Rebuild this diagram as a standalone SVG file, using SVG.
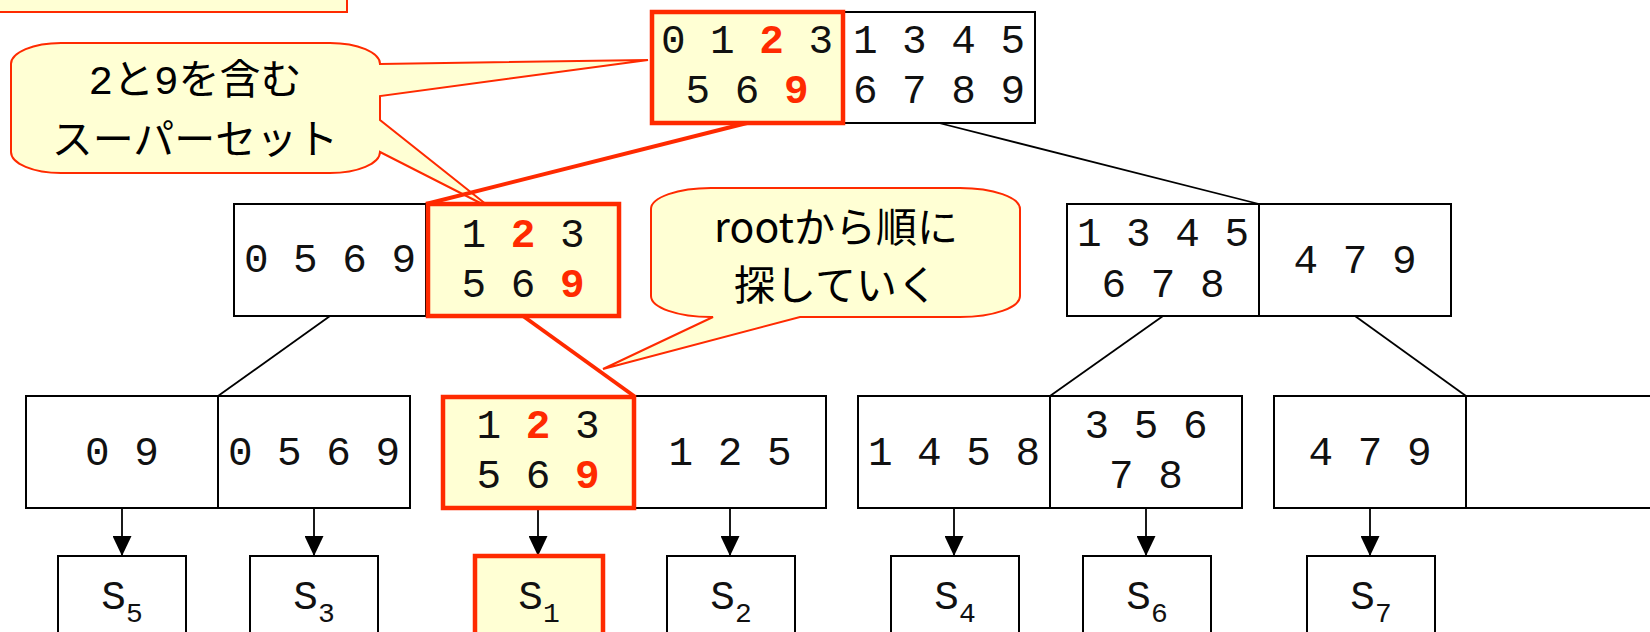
<svg xmlns="http://www.w3.org/2000/svg" width="1650" height="632" viewBox="0 0 1650 632">
<style>
.box{fill:#fff;stroke:#000;stroke-width:2}
.div{stroke:#000;stroke-width:2}
.hl{fill:#FFFFD4;stroke:#FF2A00;stroke-width:4.5}
.num{font-family:'Liberation Mono','DejaVu Sans Mono',monospace;font-size:41px;fill:#111;text-anchor:middle}
.red{font-weight:bold;fill:#FF2A00}
.sub{font-size:28px}
.call{fill:#FFFFD4;stroke:#FF2A00;stroke-width:2}
.jp{font-family:'Noto Sans CJK JP',sans-serif;font-size:41px;fill:#000;text-anchor:middle}
.mono{font-family:'Liberation Mono',monospace}
.cb{stroke:#000;stroke-width:1.8;fill:none}
.cr{stroke:#FF2A00;stroke-width:4;fill:none}
</style>
<defs>
<marker id="ah" viewBox="0 0 20 19" refX="20" refY="9.5" markerWidth="20" markerHeight="19" markerUnits="userSpaceOnUse" orient="auto">
<path d="M0,0 L20,9.5 L0,19 Z" fill="#000"/>
</marker>
</defs>

<g id="callout-top">
<rect x="-10" y="-30" width="357" height="42" class="call"/>
</g>

<g id="callout-superset">
<path class="call" d="M61,43 H330 A50 21 0 0 1 380,64 L648,60 L380,96 V120 L492,209 L380,152 A50 21 0 0 1 330,173 H61 A50 21 0 0 1 11,152 V64 A50 21 0 0 1 61,43 Z"/>
<text class="jp" x="195" y="94"><tspan class="mono">2</tspan>と<tspan class="mono">9</tspan>を含む</text>
<text class="jp" x="195" y="154">スーパーセット</text>
</g>

<g id="callout-root">
<path class="call" d="M711,188 H960 A60 21 0 0 1 1020,209 V296 A60 21 0 0 1 960,317 H800 L603,369 L713,317 H711 A60 21 0 0 1 651,296 V209 A60 21 0 0 1 711,188 Z"/>
<text class="jp" x="836" y="242">rootから順に</text>
<text class="jp" x="836" y="300">探していく</text>
</g>

<g id="connectors">
<line class="cr" x1="747" y1="123" x2="426" y2="204"/>
<line class="cb" x1="939" y1="123" x2="1259" y2="204"/>
<line class="cb" x1="330" y1="316" x2="218" y2="396"/>
<line class="cr" x1="523" y1="316" x2="634" y2="396"/>
<line class="cb" x1="1163" y1="316" x2="1050" y2="396"/>
<line class="cb" x1="1355" y1="316" x2="1466" y2="396"/>
<line class="cb" x1="122" y1="508" x2="122" y2="556" marker-end="url(#ah)"/>
<line class="cb" x1="314" y1="508" x2="314" y2="556" marker-end="url(#ah)"/>
<line class="cb" x1="538" y1="510" x2="538" y2="556" marker-end="url(#ah)"/>
<line class="cb" x1="730" y1="508" x2="730" y2="556" marker-end="url(#ah)"/>
<line class="cb" x1="954" y1="508" x2="954" y2="556" marker-end="url(#ah)"/>
<line class="cb" x1="1146" y1="508" x2="1146" y2="556" marker-end="url(#ah)"/>
<line class="cb" x1="1370" y1="508" x2="1370" y2="556" marker-end="url(#ah)"/>
</g>

<g id="node-root">
<rect class="box" x="651" y="12" width="384" height="111"/>
<line class="div" x1="843" y1="12" x2="843" y2="123"/>
<rect class="hl" x="652" y="12" width="191" height="111"/>
<text class="num" x="747" y="53">0 1 <tspan class="red">2</tspan> 3</text>
<text class="num" x="747" y="103">5 6 <tspan class="red">9</tspan></text>
<text class="num" x="939" y="53">1 3 4 5</text>
<text class="num" x="939" y="103">6 7 8 9</text>
</g>

<g id="node-mid-left">
<rect class="box" x="234" y="204" width="384" height="112"/>
<line class="div" x1="426" y1="204" x2="426" y2="316"/>
<rect class="hl" x="428" y="204" width="191" height="112"/>
<text class="num" x="330" y="272">0 5 6 9</text>
<text class="num" x="523" y="247">1 <tspan class="red">2</tspan> 3</text>
<text class="num" x="523" y="297">5 6 <tspan class="red">9</tspan></text>
</g>

<g id="node-mid-right">
<rect class="box" x="1067" y="204" width="384" height="112"/>
<line class="div" x1="1259" y1="204" x2="1259" y2="316"/>
<text class="num" x="1163" y="246">1 3 4 5</text>
<text class="num" x="1163" y="297">6 7 8</text>
<text class="num" x="1355" y="273">4 7 9</text>
</g>

<g id="node-leaf-a">
<rect class="box" x="26" y="396" width="384" height="112"/>
<line class="div" x1="218" y1="396" x2="218" y2="508"/>
<text class="num" x="122" y="465">0 9</text>
<text class="num" x="314" y="465">0 5 6 9</text>
</g>

<g id="node-leaf-b">
<rect class="box" x="442" y="396" width="384" height="112"/>
<line class="div" x1="634" y1="396" x2="634" y2="508"/>
<rect class="hl" x="443" y="397" width="191" height="111"/>
<text class="num" x="538" y="438">1 <tspan class="red">2</tspan> 3</text>
<text class="num" x="538" y="488">5 6 <tspan class="red">9</tspan></text>
<text class="num" x="730" y="465">1 2 5</text>
</g>

<g id="node-leaf-c">
<rect class="box" x="858" y="396" width="384" height="112"/>
<line class="div" x1="1050" y1="396" x2="1050" y2="508"/>
<text class="num" x="954" y="465">1 4 5 8</text>
<text class="num" x="1146" y="438">3 5 6</text>
<text class="num" x="1146" y="488">7 8</text>
</g>

<g id="node-leaf-d">
<rect class="box" x="1274" y="396" width="384" height="112"/>
<line class="div" x1="1466" y1="396" x2="1466" y2="508"/>
<text class="num" x="1370" y="465">4 7 9</text>
</g>

<g id="s5"><rect class="box" x="58" y="556" width="128" height="100"/><text class="num" x="122" y="609">S<tspan class="sub" dy="13">5</tspan></text></g>
<g id="s3"><rect class="box" x="250" y="556" width="128" height="100"/><text class="num" x="314" y="609">S<tspan class="sub" dy="13">3</tspan></text></g>
<g id="s1"><rect class="hl" x="475" y="556" width="128" height="100"/><text class="num" x="539" y="609">S<tspan class="sub" dy="13">1</tspan></text></g>
<g id="s2"><rect class="box" x="667" y="556" width="128" height="100"/><text class="num" x="731" y="609">S<tspan class="sub" dy="13">2</tspan></text></g>
<g id="s4"><rect class="box" x="891" y="556" width="128" height="100"/><text class="num" x="955" y="609">S<tspan class="sub" dy="13">4</tspan></text></g>
<g id="s6"><rect class="box" x="1083" y="556" width="128" height="100"/><text class="num" x="1147" y="609">S<tspan class="sub" dy="13">6</tspan></text></g>
<g id="s7"><rect class="box" x="1307" y="556" width="128" height="100"/><text class="num" x="1371" y="609">S<tspan class="sub" dy="13">7</tspan></text></g>
</svg>
